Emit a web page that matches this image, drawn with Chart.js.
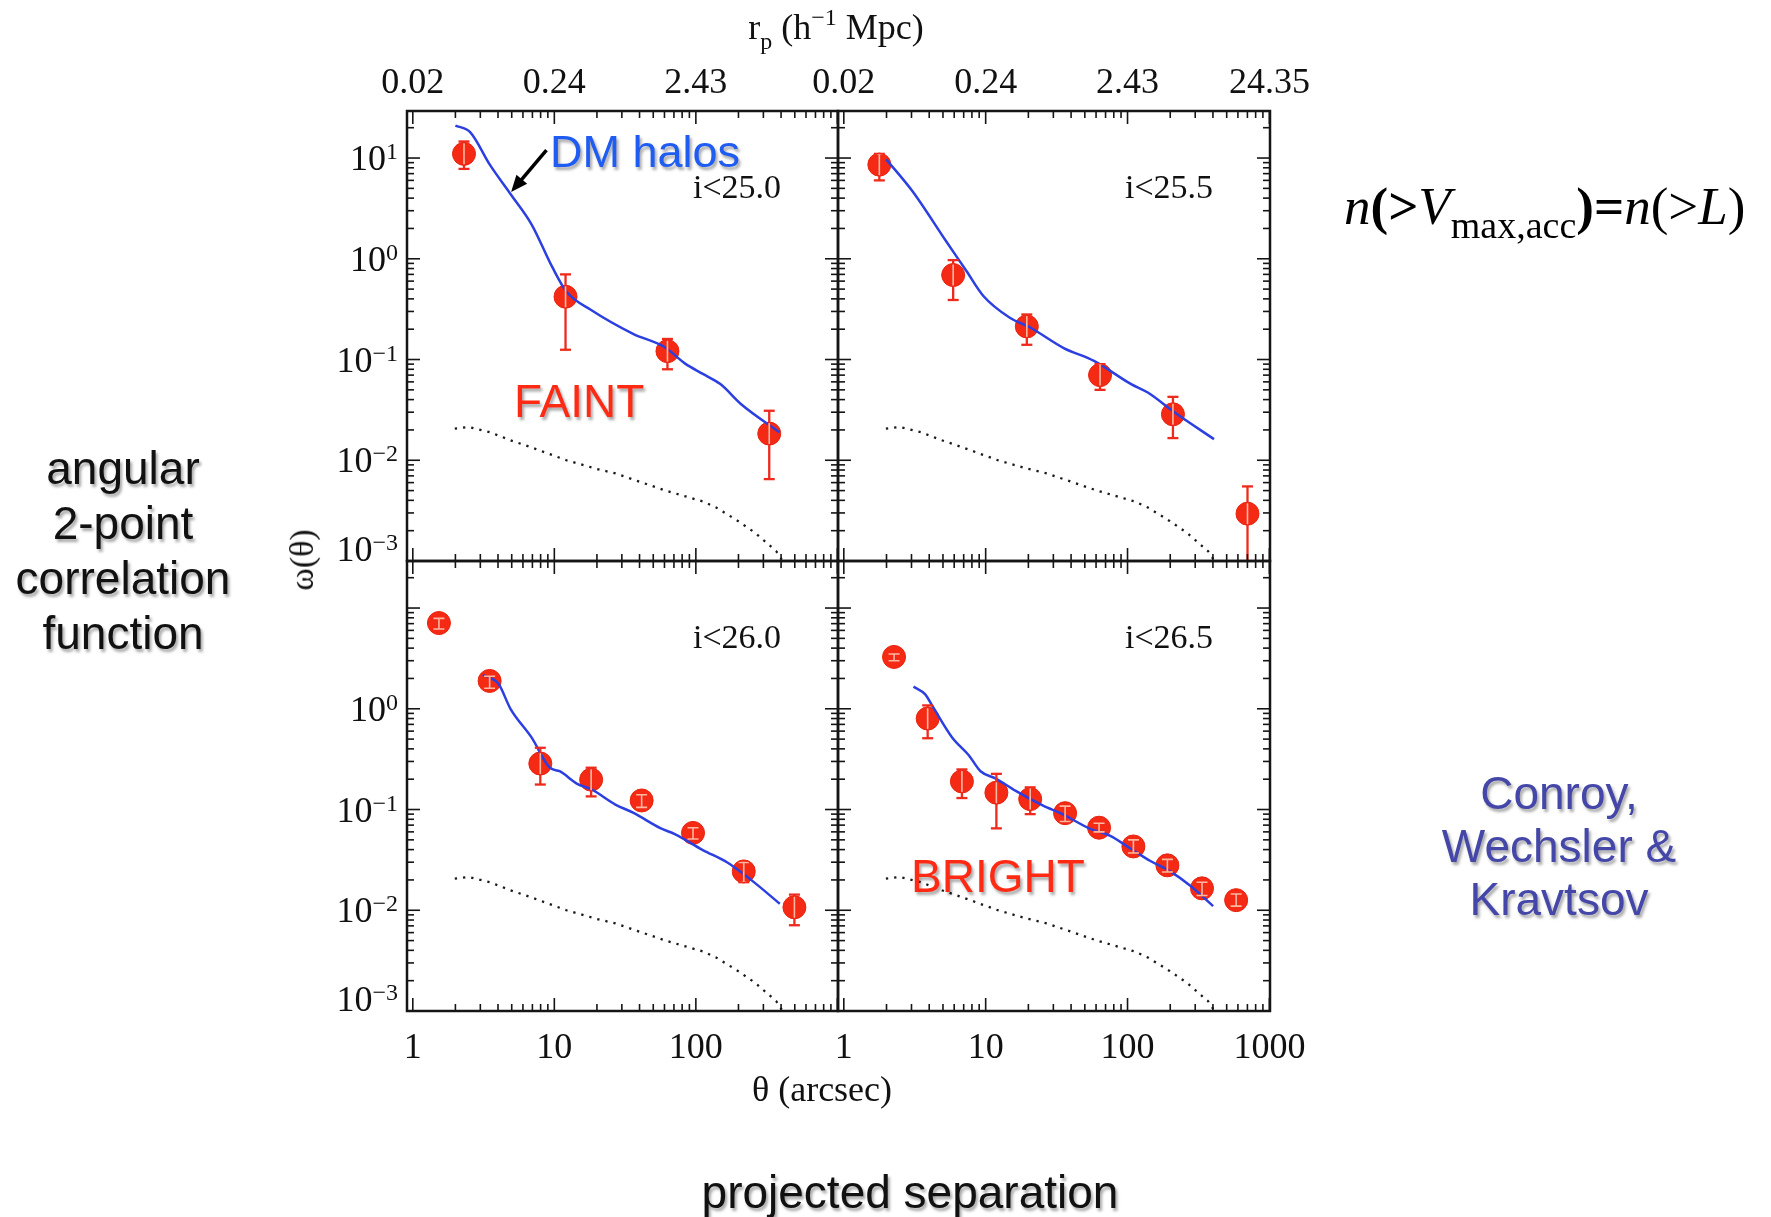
<!DOCTYPE html>
<html>
<head>
<meta charset="utf-8">
<title>angular 2-point correlation function</title>
<script src="https://cdn.jsdelivr.net/npm/chart.js@4.4.0/dist/chart.umd.min.js"></script>
<style>
    html, body { margin: 0; padding: 0; background: #fff; }
    body { width: 1771px; height: 1217px; position: relative; overflow: hidden; font-family: 'Liberation Sans', Arial, sans-serif; }
    canvas.panel { position: absolute; left: 0; top: 0; }
    .txt { position: absolute; white-space: nowrap; }
    .shadow { text-shadow: 2px 3px 3px rgba(0, 0, 0, 0.35); }
    .serif { font-family: 'Liberation Serif', 'Times New Roman', serif; color: #111; }
    .mid { transform: translate(-50%, -50%); }
</style>
</head>
<body>
<canvas id="panelA" class="panel" width="1771" height="1217"></canvas>
<canvas id="panelB" class="panel" width="1771" height="1217"></canvas>
<canvas id="panelC" class="panel" width="1771" height="1217"></canvas>
<canvas id="panelD" class="panel" width="1771" height="1217"></canvas>

<div class="txt serif mid" style="left:836px; top:27px; font-size:36px;">r<span style="font-size:24px; position:relative; top:10px;">p</span> (h<span style="font-size:24px; position:relative; top:-14px;">&minus;1</span> Mpc)</div>
<div class="txt serif mid" style="left:822px; top:1089px; font-size:36px;">&theta; (arcsec)</div>
<div class="txt serif" style="left:302px; top:560px; font-size:34px; transform: translate(-50%, -50%) rotate(-90deg);">&omega;(&theta;)</div>

<div class="txt shadow" style="left:550px; top:152px; transform: translateY(-50%); font-size:45px; color:#1f5cf2;">DM halos</div>
<div class="txt shadow" style="left:514px; top:401px; transform: translateY(-50%); font-size:46px; color:#ff2a14;">FAINT</div>
<div class="txt shadow" style="left:911px; top:876px; transform: translateY(-50%); font-size:46px; color:#ff2a14;">BRIGHT</div>

<div class="txt shadow" style="left:0px; width:246px; top:441px; font-size:46px; line-height:55px; text-align:center; color:#111;">angular<br>2-point<br>correlation<br>function</div>
<div class="txt shadow" style="left:1359px; width:400px; top:767px; font-size:46px; line-height:53px; text-align:center; color:#4447a8;">Conroy,<br>Wechsler &amp;<br>Kravtsov</div>
<div class="txt shadow mid" style="left:910px; top:1192px; font-size:46px; color:#111;">projected separation</div>

<div class="txt serif" style="left:1344px; top:206px; transform: translateY(-50%); font-size:53px; color:#000;"><i>n</i><b>(&gt;</b><i>V</i><span style="font-size:38px; position:relative; top:14px;">max,acc</span><b>)=</b><i>n</i>(&gt;<i>L</i>)</div>

<script>
// angular separation ticks (arcsec) and matching projected radius r_p (h^-1 Mpc)
const thetaTicks = [1, 10, 100, 1000];
const thetaTickText = ['1', '10', '100', '1000'];
const rpTickText = ['0.02', '0.24', '2.43', '24.35'];
const omegaTicks = [10, 1, 0.1, 0.01, 0.001];
const omegaTickExp = ['1', '0', '\u22121', '\u22122', '\u22123'];
const panelNames = ['i<25.0', 'i<25.5', 'i<26.0', 'i<26.5'];

// dark matter (dotted), same in every panel
const dmTheta = [1.98, 2.48, 3.5, 4.9, 6.9, 12.2, 20, 27, 61, 112, 139, 198, 263, 370, 410];
const dmOmega = [0.0206, 0.0214, 0.019, 0.0158, 0.0134, 0.0100, 0.0082, 0.0074, 0.0050, 0.0039, 0.0034, 0.0025, 0.0019, 0.00125, 0.001];

// i<25.0
const theta250 = [2.3, 12, 63, 330];
const omega250 = [11, 0.42, 0.121, 0.0184];
const omega250Hi = [14.6, 0.7, 0.16, 0.031];
const omega250Lo = [7.8, 0.125, 0.08, 0.0065];
const haloTheta250 = [2.0, 2.55, 3.5, 4.9, 6.9, 9.7, 12.2, 18.2, 36, 60, 84, 112, 149, 209, 389];
const haloOmega250 = [21, 18, 8.6, 4.4, 2.2, 0.82, 0.47, 0.31, 0.18, 0.133, 0.091, 0.072, 0.057, 0.036, 0.019];

// i<25.5
const theta255 = [1.78, 5.9, 19.5, 64, 209, 701];
const omega255 = [8.6, 0.69, 0.213, 0.070, 0.0286, 0.00295];
const omega255Hi = [11, 0.97, 0.28, 0.09, 0.0426, 0.0055];
const omega255Lo = [6.0, 0.39, 0.14, 0.050, 0.0166, 0.0009];
const haloTheta255 = [1.99, 3.04, 5.25, 7.3, 9.6, 14.8, 20.6, 35.5, 58, 106, 139, 215, 407];
const haloOmega255 = [9.7, 4.7, 1.5, 0.76, 0.43, 0.26, 0.208, 0.13, 0.097, 0.057, 0.047, 0.0298, 0.0162];

// i<26.0
const theta260 = [1.53, 3.49, 7.96, 18.2, 41.4, 95.5, 218, 497];
const omega260 = [7.1, 1.89, 0.286, 0.198, 0.123, 0.0586, 0.0243, 0.0107];
const omega260Hi = [7.9, 2.1, 0.41, 0.26, 0.14, 0.066, 0.0298, 0.0143];
const omega260Lo = [6.2, 1.6, 0.177, 0.135, 0.105, 0.051, 0.019, 0.0071];
const haloTheta260 = [3.12, 4.03, 4.9, 6.9, 9.3, 10.9, 14.5, 18.2, 27, 36, 56.6, 71, 112, 167, 248, 392];
const haloOmega260 = [2.17, 1.77, 1.0, 0.52, 0.26, 0.24, 0.18, 0.159, 0.112, 0.093, 0.065, 0.057, 0.0396, 0.0298, 0.0198, 0.0116];

// i<26.5
const theta265 = [2.26, 3.9, 6.8, 11.9, 20.6, 36.3, 63, 110, 191, 335, 583];
const omega265 = [3.27, 0.80, 0.19, 0.147, 0.127, 0.092, 0.066, 0.043, 0.0279, 0.0165, 0.0126];
const omega265Hi = [3.5, 1.08, 0.25, 0.226, 0.166, 0.108, 0.073, 0.05, 0.032, 0.019, 0.0145];
const omega265Lo = [3.0, 0.51, 0.13, 0.065, 0.09, 0.076, 0.06, 0.037, 0.024, 0.014, 0.011];
const haloTheta265 = [3.1, 3.75, 4.19, 5.8, 7.6, 9.2, 11.8, 16.3, 25.2, 35, 54, 75, 104, 144, 200, 277, 401];
const haloOmega265 = [1.66, 1.39, 1.08, 0.52, 0.346, 0.24, 0.203, 0.153, 0.110, 0.0897, 0.0647, 0.055, 0.0413, 0.031, 0.0243, 0.0175, 0.011];


const SERIF = "'Liberation Serif', 'Times New Roman', serif";
const POINT_R = 11.5;

function toXY(xs, ys) {
    return xs.map((x, i) => ({ x: x, y: ys[i] }));
}

function strokeLine(ctx, x1, y1, x2, y2) {
    ctx.beginPath();
    ctx.moveTo(x1, y1);
    ctx.lineTo(x2, y2);
    ctx.stroke();
}

/* Rahmen, Ticks nach innen und Achsenbeschriftung */
const framePlugin = {
    id: 'panelFrame',
    afterDraw(chart, args, opts) {
        const { ctx, chartArea: a, scales: { x, y } } = chart;
        ctx.save();
        ctx.strokeStyle = '#151515';
        ctx.lineWidth = 1.6;

        for (let d = -1; d <= 3; d++) {
            for (let k = 1; k <= 9; k++) {
                const v = k * Math.pow(10, d);
                if (v < x.min || v > x.max) continue;
                const px = x.getPixelForValue(v);
                const len = k === 1 ? 13 : 7;
                strokeLine(ctx, px, a.bottom, px, a.bottom - len);
                strokeLine(ctx, px, a.top, px, a.top + len);
            }
        }
        for (let d = -4; d <= 1; d++) {
            for (let k = 1; k <= 9; k++) {
                const v = k * Math.pow(10, d);
                if (v < y.min * 0.999 || v > y.max) continue;
                const py = y.getPixelForValue(v);
                const len = k === 1 ? 13 : 7;
                strokeLine(ctx, a.left, py, a.left + len, py);
                strokeLine(ctx, a.right, py, a.right - len, py);
            }
        }

        ctx.lineWidth = 2.5;
        ctx.strokeRect(a.left, a.top, a.right - a.left, a.bottom - a.top);

        ctx.fillStyle = '#111';
        ctx.textAlign = 'center';
        ctx.textBaseline = 'middle';
        ctx.font = '36px ' + SERIF;
        (opts.bottomTicks || []).forEach(i => {
            ctx.fillText(thetaTickText[i], x.getPixelForValue(thetaTicks[i]), a.bottom + 38);
        });
        (opts.topTicks || []).forEach(i => {
            ctx.fillText(rpTickText[i], x.getPixelForValue(thetaTicks[i]), a.top - 27);
        });

        (opts.leftTicks || []).forEach(i => {
            let py = y.getPixelForValue(omegaTicks[i]);
            if (i === omegaTicks.length - 1) py -= 12;
            const right = a.left - 9;
            ctx.textAlign = 'right';
            ctx.textBaseline = 'alphabetic';
            ctx.font = '24px ' + SERIF;
            const expW = ctx.measureText(omegaTickExp[i]).width;
            ctx.fillText(omegaTickExp[i], right, py + 1);
            ctx.font = '36px ' + SERIF;
            ctx.fillText('10', right - expW, py + 12);
        });

        ctx.textAlign = 'center';
        ctx.textBaseline = 'middle';
        ctx.font = '34px ' + SERIF;
        ctx.fillText(opts.name, a.right - 101, a.top + 78);

        if (opts.arrow) {
            const x1 = x.getPixelForValue(opts.arrow[0]), y1 = y.getPixelForValue(opts.arrow[1]);
            const x2 = x.getPixelForValue(opts.arrow[2]), y2 = y.getPixelForValue(opts.arrow[3]);
            const ang = Math.atan2(y2 - y1, x2 - x1);
            ctx.strokeStyle = '#000';
            ctx.lineWidth = 3.5;
            strokeLine(ctx, x1, y1, x2 - 10 * Math.cos(ang), y2 - 10 * Math.sin(ang));
            ctx.fillStyle = '#000';
            ctx.beginPath();
            ctx.moveTo(x2, y2);
            ctx.lineTo(x2 - 18 * Math.cos(ang - 0.4), y2 - 18 * Math.sin(ang - 0.4));
            ctx.lineTo(x2 - 18 * Math.cos(ang + 0.4), y2 - 18 * Math.sin(ang + 0.4));
            ctx.closePath();
            ctx.fill();
        }
        ctx.restore();
    }
};

/* Fehlerbalken der Messpunkte */
const errorBarPlugin = {
    id: 'errorBars',
    afterDatasetsDraw(chart, args, opts) {
        const { ctx, chartArea: a, scales: { x, y } } = chart;
        ctx.save();
        ctx.beginPath();
        ctx.rect(a.left, a.top, a.right - a.left, a.bottom - a.top);
        ctx.clip();
        opts.theta.forEach((t, i) => {
            const px = x.getPixelForValue(t);
            const pc = y.getPixelForValue(opts.omega[i]);
            const pHi = y.getPixelForValue(opts.hi[i]);
            const pLo = y.getPixelForValue(opts.lo[i]);
            const drawBar = () => {
                strokeLine(ctx, px, pHi, px, pLo);
                strokeLine(ctx, px - 5.5, pHi, px + 5.5, pHi);
                strokeLine(ctx, px - 5.5, pLo, px + 5.5, pLo);
            };
            ctx.strokeStyle = '#ee2a1c';
            ctx.lineWidth = 2.3;
            drawBar();
            ctx.save();
            ctx.beginPath();
            ctx.arc(px, pc, POINT_R - 1, 0, Math.PI * 2);
            ctx.clip();
            ctx.strokeStyle = '#ffb8a0';
            ctx.lineWidth = 1.6;
            drawBar();
            ctx.restore();
        });
        ctx.restore();
    }
};

function makePanel(canvasId, rect, pts, halo, frame) {
    const ctx = document.getElementById(canvasId).getContext('2d');
    new Chart(ctx, {
        type: 'scatter',
        data: {
            datasets: [
                {
                    label: 'DM halos',
                    data: toXY(halo.theta, halo.omega),
                    showLine: true,
                    borderColor: '#2c3fe0',
                    borderWidth: 2.5,
                    pointRadius: 0,
                    cubicInterpolationMode: 'monotone',
                },
                {
                    label: 'dark matter',
                    data: toXY(dmTheta, dmOmega),
                    showLine: true,
                    borderColor: '#1a1a1a',
                    borderWidth: 2.3,
                    borderDash: [2.3, 6],
                    pointRadius: 0,
                },
                {
                    label: 'galaxies',
                    data: toXY(pts.theta, pts.omega),
                    showLine: false,
                    pointRadius: POINT_R,
                    pointBackgroundColor: '#f42a14',
                    pointBorderColor: '#e8230f',
                    pointBorderWidth: 1,
                }
            ],
        },
        options: {
            responsive: false,
            animation: false,
            events: [],
            layout: {
                padding: { left: rect[0], top: rect[1], right: 1771 - rect[2], bottom: 1217 - rect[3] },
            },
            scales: {
                x: { type: 'logarithmic', min: 0.91, max: 1010, display: false },
                y: { type: 'logarithmic', min: 0.001, max: 29.3, display: false },
            },
            plugins: {
                legend: { display: false },
                tooltip: { enabled: false },
                panelFrame: frame,
                errorBars: pts,
            },
        },
        plugins: [errorBarPlugin, framePlugin],
    });
}

makePanel('panelA', [407, 111, 838, 561],
    { theta: theta250, omega: omega250, hi: omega250Hi, lo: omega250Lo },
    { theta: haloTheta250, omega: haloOmega250 },
    { name: panelNames[0], topTicks: [0, 1, 2], leftTicks: [0, 1, 2, 3, 4], arrow: [8.8, 12, 4.95, 4.6] });

makePanel('panelB', [838, 111, 1270, 561],
    { theta: theta255, omega: omega255, hi: omega255Hi, lo: omega255Lo },
    { theta: haloTheta255, omega: haloOmega255 },
    { name: panelNames[1], topTicks: [0, 1, 2, 3] });

makePanel('panelC', [407, 561, 838, 1011],
    { theta: theta260, omega: omega260, hi: omega260Hi, lo: omega260Lo },
    { theta: haloTheta260, omega: haloOmega260 },
    { name: panelNames[2], bottomTicks: [0, 1, 2], leftTicks: [1, 2, 3, 4] });

makePanel('panelD', [838, 561, 1270, 1011],
    { theta: theta265, omega: omega265, hi: omega265Hi, lo: omega265Lo },
    { theta: haloTheta265, omega: haloOmega265 },
    { name: panelNames[3], bottomTicks: [0, 1, 2, 3] });
</script>
</body>
</html>
